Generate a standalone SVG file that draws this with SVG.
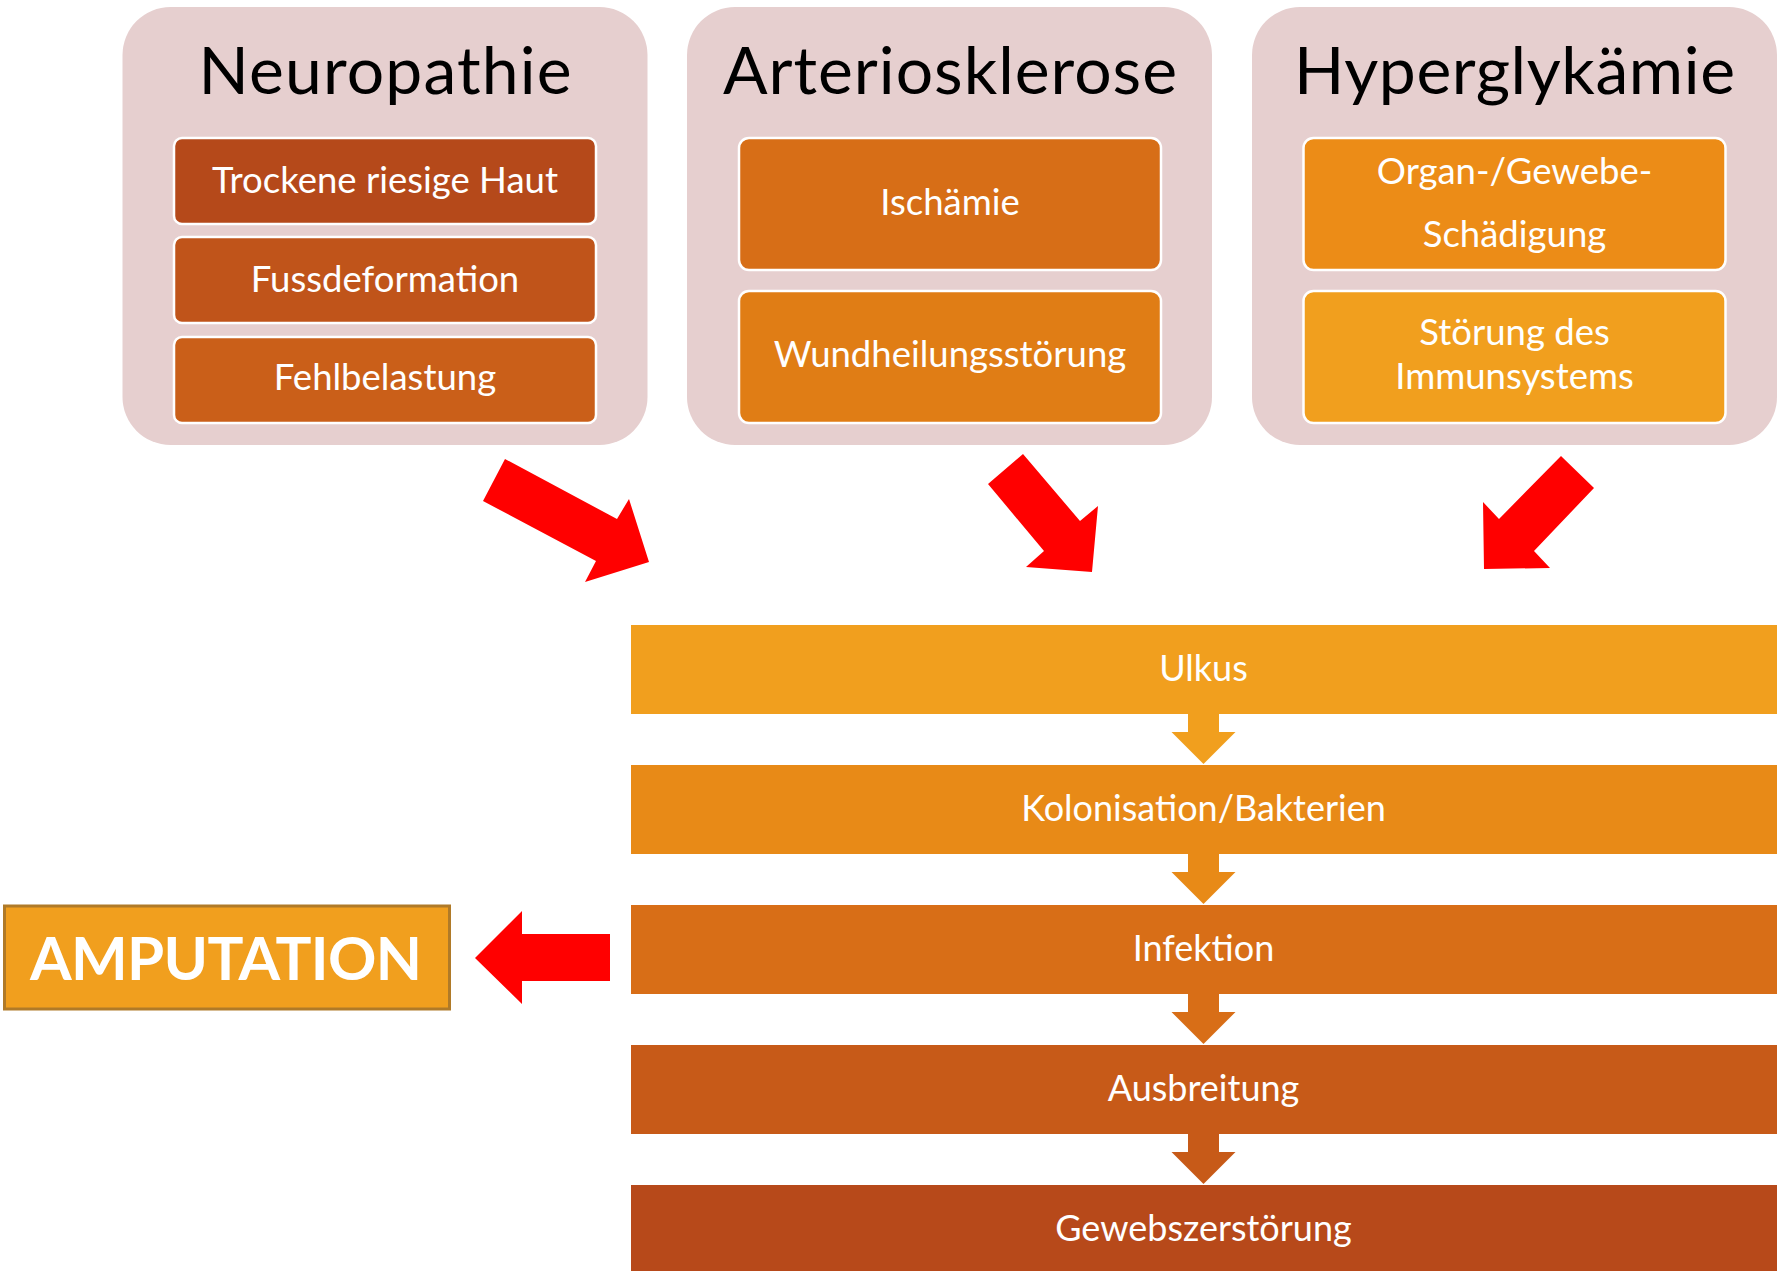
<svg xmlns="http://www.w3.org/2000/svg" width="1787" height="1271" viewBox="0 0 1787 1271">
<style>
.cont{fill:#E6CFCF}
.box{stroke:#FFFFFF;stroke-width:2.5}
.title{font-family:Lato,"Open Sans",sans-serif;font-size:66px;fill:#000000;text-anchor:middle}
.bt{font-family:Lato,"Open Sans",sans-serif;font-size:36.5px;fill:#FFFFFF;text-anchor:middle}
.bar-t{font-family:Lato,"Open Sans",sans-serif;font-size:36px;fill:#FFFFFF;text-anchor:middle}
.red{fill:#FF0000}
</style>
<rect width="1787" height="1271" fill="#FFFFFF"/>

<g id="neuropathie">
<rect class="cont" x="122.5" y="7" width="525" height="438" rx="48"/>
<text class="title" x="385" y="94" textLength="373">Neuropathie</text>
<rect class="box" x="174" y="138" width="422" height="86" rx="8" fill="#B5491A"/>
<text class="bt" x="385" y="193">Trockene riesige Haut</text>
<rect class="box" x="174" y="237" width="422" height="86" rx="8" fill="#C0541A"/>
<text class="bt" x="385" y="292">Fussdeformation</text>
<rect class="box" x="174" y="337" width="422" height="86" rx="8" fill="#CA5F19"/>
<text class="bt" x="385" y="390">Fehlbelastung</text>
</g>

<g id="arteriosklerose">
<rect class="cont" x="687" y="7" width="525" height="438" rx="48"/>
<text class="title" x="950" y="94" textLength="454">Arteriosklerose</text>
<rect class="box" x="739" y="138" width="422" height="132" rx="10" fill="#D76E17"/>
<text class="bt" x="950" y="215">Ischämie</text>
<rect class="box" x="739" y="291" width="422" height="132" rx="10" fill="#E07D15"/>
<text class="bt" x="950" y="367">Wundheilungsstörung</text>
</g>

<g id="hyperglykaemie">
<rect class="cont" x="1252" y="7" width="525" height="438" rx="48"/>
<text class="title" x="1514.5" y="94" textLength="441">Hyperglykämie</text>
<rect class="box" x="1303.5" y="138" width="422" height="132" rx="10" fill="#EC8C17"/>
<text class="bt" x="1514.5" y="184">Organ-/Gewebe-</text>
<text class="bt" x="1514.5" y="247">Schädigung</text>
<rect class="box" x="1303.5" y="291" width="422" height="132" rx="10" fill="#F19F1E"/>
<text class="bt" x="1514.5" y="345">Störung des</text>
<text class="bt" x="1514.5" y="389">Immunsystems</text>
</g>

<g id="ulkus">
<rect x="631" y="625" width="1146" height="89" fill="#F19F1E"/>
<text class="bar-t" x="1203.5" y="681">Ulkus</text>
</g>
<g id="kolonisation">
<rect x="631" y="765" width="1146" height="89" fill="#E88A17"/>
<text class="bar-t" x="1203.5" y="821">Kolonisation/Bakterien</text>
</g>
<g id="infektion">
<rect x="631" y="905" width="1146" height="89" fill="#D86E17"/>
<text class="bar-t" x="1203.5" y="961">Infektion</text>
</g>
<g id="ausbreitung">
<rect x="631" y="1045" width="1146" height="89" fill="#C75A18"/>
<text class="bar-t" x="1203.5" y="1101">Ausbreitung</text>
</g>
<g id="gewebszerstoerung">
<rect x="631" y="1185" width="1146" height="90" fill="#B7491A"/>
<text class="bar-t" x="1203.5" y="1241">Gewebszerstörung</text>
</g>

<g id="amputation">
<rect x="4.5" y="906" width="445" height="103" fill="#F19F1E" stroke="#B07A28" stroke-width="3"/>
<text x="226" y="980" font-family="Lato,'Open Sans',sans-serif" font-size="60" font-weight="bold" fill="#FFFFFF" text-anchor="middle" textLength="392">AMPUTATION</text>
</g>

<g id="connectors">
<polygon class="red" points="505,459 483,501 596,561 585,582 649,562 629,499 617,519"/>
<polygon class="red" points="1023,454 988,484 1044,551 1026,567 1092,572 1098,506 1080,521"/>
<polygon class="red" points="1561,456 1594,488 1534,551 1550,568 1484,569 1483,502 1499,519"/>
<polygon class="red" points="475,958 522,911 522,934 610,934 610,981 522,981 522,1004"/>
<polygon fill="#F19F1E" points="1188,714 1219,714 1219,732 1235.5,732 1203.5,764 1171.5,732 1188,732"/>
<polygon fill="#E88A17" points="1188,854 1219,854 1219,872 1235.5,872 1203.5,904 1171.5,872 1188,872"/>
<polygon fill="#D86E17" points="1188,994 1219,994 1219,1012 1235.5,1012 1203.5,1044 1171.5,1012 1188,1012"/>
<polygon fill="#C75A18" points="1188,1134 1219,1134 1219,1152 1235.5,1152 1203.5,1184 1171.5,1152 1188,1152"/>
</g>
</svg>
